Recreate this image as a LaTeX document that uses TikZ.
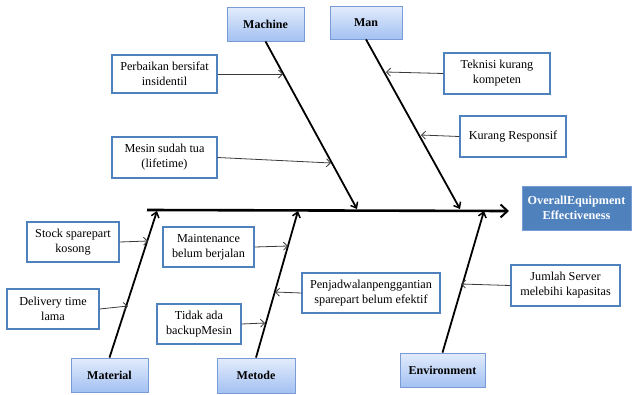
\documentclass[tikz,border=0pt]{standalone}
\usepackage{fontspec}
\setmainfont{Liberation Serif}
\usetikzlibrary{arrows.meta,shadows}
\definecolor{boxblue}{HTML}{4F81BD}
\definecolor{catdraw}{HTML}{7A9CD6}
\definecolor{cattop}{HTML}{E3ECFC}
\definecolor{catbot}{HTML}{A3C1F2}
\definecolor{arrowgray}{HTML}{3A3A3A}
\tikzset{
  causebox/.style={draw=boxblue, line width=1.3pt, fill=white, align=center,
    inner sep=0pt, font=\fontsize{12.2}{15}\selectfont},
  catbox/.style={draw=catdraw, line width=0.8pt, top color=cattop, bottom color=catbot,
    align=center, inner sep=0pt, font=\fontsize{12}{14}\selectfont\bfseries,
    drop shadow={shadow xshift=1pt, shadow yshift=-1pt, opacity=0.3}},
  effectbox/.style={draw=catdraw, line width=0.8pt, fill=boxblue, text=white, align=center,
    inner sep=0pt, font=\fontsize{12.2}{15}\selectfont\bfseries},
  bone/.style={line width=1.8pt, -{Straight Barb[length=5pt,width=8pt,line width=1.5pt]}},
  spine/.style={line width=2.6pt, -{Straight Barb[length=7pt,width=13pt,line width=2pt]}},
  causearrow/.style={line width=0.8pt, arrowgray, -{Straight Barb[length=4pt,width=8pt,line width=0.8pt]}}
}
\begin{document}
\begin{tikzpicture}[x=1pt,y=-1pt]
\useasboundingbox (0,0) rectangle (632,394);

% effect
\node[effectbox, minimum width=109pt, minimum height=44pt] (oee) at (576.5,208) {OverallEquipment\\Effectiveness};

% category boxes
\node[catbox, minimum width=77pt, minimum height=34pt] (machine) at (265.5,24) {Machine};
\node[catbox, minimum width=72pt, minimum height=33pt] (man) at (366,22.5) {Man};
\node[catbox, minimum width=77pt, minimum height=34pt] (material) at (109.5,375) {Material};
\node[catbox, minimum width=78pt, minimum height=35pt] (metode) at (256,375.5) {Metode};
\node[catbox, minimum width=85pt, minimum height=34pt] (env) at (442.5,370) {Environment};

% spine
\coordinate (spineS) at (147,210);
\coordinate (spineE) at (509,211);
\draw[spine] (spineS) -- (spineE);

% bone ends on the spine
\coordinate (machineE) at (357,209);
\coordinate (manE) at (460,209);
\coordinate (materialE) at (157,211);
\coordinate (metodeE) at (298,211);
\coordinate (envE) at (484,211);

\draw[bone] (machine.south) -- (machineE);
\draw[bone] (man.south) -- (manE);
\draw[bone] (material.north) -- (materialE);
\draw[bone] (metode.north) -- (metodeE);
\draw[bone] (env.north) -- (envE);

% cause boxes
\node[causebox, minimum width=105pt, minimum height=38pt] (perb) at (164.5,74) {Perbaikan bersifat\\insidentil};
\node[causebox, minimum width=105pt, minimum height=41pt] (mesin) at (164.5,157.5) {Mesin sudah tua\\(lifetime)};
\node[causebox, minimum width=106pt, minimum height=41pt] (teknisi) at (497,73.5) {Teknisi kurang\\kompeten};
\node[causebox, minimum width=106pt, minimum height=41pt] (kurang) at (513,136.5) {Kurang Responsif};
\node[causebox, minimum width=92pt, minimum height=40pt] (stock) at (73,242) {Stock sparepart\\kosong};
\node[causebox, minimum width=92pt, minimum height=40pt] (delivery) at (53,309) {Delivery time\\lama};
\node[causebox, minimum width=91pt, minimum height=40pt] (maint) at (208.5,247) {Maintenance\\belum berjalan};
\node[causebox, minimum width=84pt, minimum height=40pt] (tidak) at (199,324) {Tidak ada\\backupMesin};
\node[causebox, minimum width=138pt, minimum height=40pt] (penj) at (371,293) {Penjadwalanpenggantian\\sparepart belum efektif};
\node[causebox, minimum width=109pt, minimum height=41pt] (jumlah) at (565.5,285.5) {Jumlah Server\\melebihi kapasitas};

% points on the bones
\coordinate (pPerb) at (283,74);
\coordinate (pMesin) at (331,163);
\coordinate (pTeknisi) at (386,72);
\coordinate (pKurang) at (421,135);
\coordinate (pStock) at (148,241);
\coordinate (pDelivery) at (128,306);
\coordinate (pMaint) at (288,246);
\coordinate (pTidak) at (265,323);
\coordinate (pPenj) at (275,292);
\coordinate (pJumlah) at (461,284);

\draw[causearrow] (perb.east) -- (pPerb);
\draw[causearrow] (mesin.east) -- (pMesin);
\draw[causearrow] (teknisi.west) -- (pTeknisi);
\draw[causearrow] (kurang.west) -- (pKurang);
\draw[causearrow] (stock.east) -- (pStock);
\draw[causearrow] (delivery.east) -- (pDelivery);
\draw[causearrow] (maint.east) -- (pMaint);
\draw[causearrow] (tidak.east) -- (pTidak);
\draw[causearrow] (penj.west) -- (pPenj);
\draw[causearrow] (jumlah.west) -- (pJumlah);
\end{tikzpicture}
\end{document}
